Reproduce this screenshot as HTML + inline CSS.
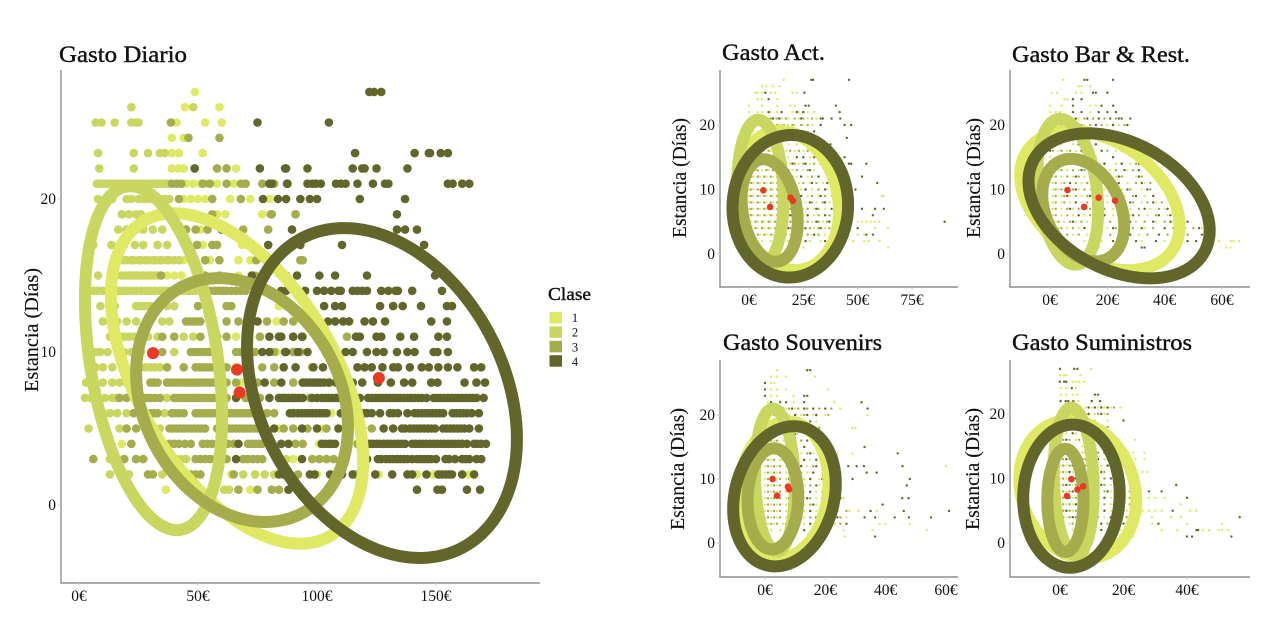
<!DOCTYPE html>
<html lang="es">
<head>
<meta charset="utf-8">
<title>Gasto y estancia por clase</title>
<style>
html,body{margin:0;padding:0;background:#fff;width:1276px;height:630px;overflow:hidden}
svg{display:block;filter:blur(.35px)}
text{font-family:"Liberation Serif",serif;fill:#111}
.title{font-size:23px;stroke:#111;stroke-width:.4px}
.ytitle{font-size:20px;stroke:#111;stroke-width:.15px}
.tick{font-size:15.5px}
</style>
</head>
<body>
<svg id="chart" width="1276" height="630" viewBox="0 0 1276 630" xmlns="http://www.w3.org/2000/svg"></svg>
<script>
const classes = ['1','2','3','4'];
const classColors = ['#DFE963','#C9D65F','#A4AC4C','#62662B'];
const redColor = '#EA3A22';

/* Main chart: each row is [estancia, gasto, gasto, ...] */
const mainRows1 = [[27,48.7],[26,44.5,59],[25,41,53,60],[24,39,44],[23,39,42,52],[22,39,41.6,44,66],[21,45,48,51,54,58,65],[20,44,47,50,53,63.5,72,80],[19,58,61.5,77],[18,41,44,51],[17,52,68.5],[16,44,47,55,67,72],[15,37,40,43,67],[14,47,52,58],[13,84,87],[12,83],[11,66],[10,57,83],[9,58,66],[8,68,106],[7,48,62],[6,106,76],[5,84,102],[4,18,58,101],[3,70,90,134],[2,58,64,100,126,142,149,164],[1,36.5,72]];
const mainRows2 = [[26,22,48],[25,7,9.5,15,22,24,25],[23,8,23,29,34,36],[22,8.5,23],[21,7.5,9,10,11.5,13,14.5,16,17.5,19,20.5,22,23.5,25,26.5,28,29.5,31,32.5,34,35.5,37],[20,8,11,14,20,22,25,27,28,30,31,33,34,36,38],[19,18,21,24,26],[18,16.5,20,24,27,31,35],[17,6,13.6,17,19,23.5,27,33,37],[16,17,19,20,22,23,25,26,28,29,31,32,34,35,37,38,40,42],[15,8,16,18,19.5,21,22.5,24,25.5,27,28.5,30,31.5,33],[14,6,8,10,16,17.5,19,20.5,22,24,26,27.5,29,30.5,32,34,36,37.5,39,40.5,42,44,46,47.5,49,51],[13,9,15,24,25.5,27,28.5,30,32,34,37,40],[12,10,13,16,20,24,35,38],[11,13,14.5,16,17.5,19,21,23,26,29,33,44,48],[10,7,9,12,19,22,26,40],[9,4,7,10,14,26,28,30,32,34],[8,3,5,10,14,17,20],[7,2.5,5,8,11,14,16,37],[6,10,13,16,20,36],[5,4,10,17,30,34],[4,13],[3,13,41,43,45,87],[2,13,21,35,69,74,78,82],[1,61,63]];
const mainRows3 = [[25,38.6],[24,46,59],[22,48.6,58,62],[21,39,41,43,52,55,62,68,70,77,82],[20,42,56,68],[19,56,80.6,81,91,91],[18,45,49,54,69,79.5],[17,49.6,56,58],[16,53,59,74.5,93,94],[15,34.5,53,59,74],[14,52,53.5,55,57,59,60.5,62,64,66,68,70],[13,50,54,62,64],[12,45,46.5,48,49.5,51,62,67,79,86,90],[11,35,40,51,58,62,76,90,94,112.6],[10,35,47,48.5,50,51.5,53,54.5,56,66,68,70,72,74,82,91,90,93],[9,37,44,49,50.5,52,53.5,55,56.5,58,62,77,82,98],[8,30,31.5,33,37,38.5,40,41.5,43,44.5,46,47.5,49,50.5,52,53.5,55,56.5,58,60,62,66,75,82,90],[7,17,20,24,25.5,27,28.5,30,32,34,40,41.5,43,44.5,46,47.5,49,50.5,52,53.5,55,56.5,58,60,62,70,71.5,73,74.5,76,86,97,108],[6,23,30,31.5,33,39,40.5,42,44,49,50.5,52,53.5,55,56.5,58,59.5,61,62.5,64,65.5,67,68.5,70,71.5,73,74.5,76,79,82],[5,20,24,38,39.5,41,42.5,44,45.5,47,48.5,50,51.5,53,58,60,63,64.5,66,67.5,69,70.5,72,73.5,75,78,86,90,96,104,123],[4,22,38,40,42,44.5,47,52,54,56,58,60,62.5,65,71,72.5,74,75.5,77,80,91,94,117,134],[3,6,19,24,27,49,51,53,55,57,59.5,62,69,71,73,75,77,98,101,104,107],[2,29,31,47,49,51,65,92,116],[1,67,75,81,92,84]];
const mainRows4 = [[27,122,124,127],[25,75,105],[23,116,141,147,147.5,152,155],[22,48.6,76,87,96,86.6,115,119,120,125,138],[21,80,87.4,81,87.6,96,98,99.6,101.6,108,110,112,117,123.5,128.6,130,155,157,161,164],[20,77.3,83.6,87,93,97,100,118,137],[19,133.6],[18,60,89.5,133.6,137,142],[17,79.5,93,110.5,145],[15,72.6,85,87,91.6,101,107.6,121,149.6],[14,85,87,95,100,103,106,109,110,115,117,119,121,127,130,133,134,140,152.5],[13,103,107.6,110.5,126.5,132,136,143.7,154.6,156.7],[12,75,104.6,107.6,111,113.5,120,123.5,128.6,148,154.6],[11,80,84,85,90,93.7,116.4,118,125,127,135,140.8,151,154.6],[10,77,80,87,86.6,92,96,112,115,121,125,128,133.6,138,141,149,150.6,155],[9,86,91,98.5,102.5,117,120,123,127.5,132,134,139,144,147,151,155,159,166,169],[8,78,85,94,95.5,97,98.5,100,101.5,103,105,108,115,119,125.6,131,136.6,140,148,150.6,162,167,170.6],[7,66,80,84,90,85,86.5,88,89.5,91,92.5,94,98,100,102,103.5,105,106.5,108,109.5,111,112.5,114,118,121.5,123,124.5,126,127.5,129,130.5,132,133.5,135,136.5,138,139.5,141,142.5,144,146,149,150.5,152,153.5,155,156.5,158,159.5,161,162.5,164,165.5,167,170],[6,90,88.6,90,92,93.5,95,96.5,98,99.5,101,102.5,104,110,119.5,121,123,126.5,130.6,132,134,138,141,142.5,144,145.5,147,148.5,150,151.5,153,157,158.5,160,161.5,163,165,168],[5,82,93.7,100,109,113,119,128,132,135.7,137,139,140.5,142,143.5,145,146.5,148,149.6,153,154.5,156,157.5,159,160.5,162,164,168],[4,67,85,88,102,103.5,105,106,107.6,122,123.5,125,126.5,128,129.5,131,132.5,134,135.5,137,140,141.5,143,144.5,146,147.5,149,150.5,152,153.5,155,156.5,158,159.5,161,163,166,167.5,169,171],[3,66,93.7,112,121,125.6,127,129,130.5,132,133.5,135,136.5,138,140,142,143.5,145,146.5,148,150,154,155.5,158,161,162.5,164,167,169],[2,84,86,97,99,105.5,110.5,115,124.5,131.6,138,140,146,151,152.5,154,155.5,156.7,161,166],[1,88,142,150.6,152.5,163,168.5]];
const mainEllipseCx = [66.4,31.3,68.5,127.3];
const mainEllipseCy = [8.27,9.6,6.86,7.32];
const mainEllipseSx = [53,28.8,44.5,56.7];
const mainEllipseSy = [10.8,11.24,7.97,10.78];
const mainEllipseRho = [-0.5,-0.34,-0.22,-0.28];
const mainMeanX = [66.4,31.1,67.5,126];
const mainMeanY = [8.85,9.93,7.35,8.3];
const mainXTicks = [0,50,100,150];
const yTicks = [0,10,20];

/* Gasto Act. */
const actLight = [[27,16],[26,6,8,11,14],[25,3,4,6,10,12,20,22],[24,4,6,13],[23,0,6,13,19,21],[22,0,4,6,10,13,20,23,27,30],[21,5,7,9,12,15,18,23,27,31],[20,3,6,8,11,14,18,21,25,29],[19,2,5,8,12,15,19,23,27],[18,2,5,8,11,14,17,21,25,29],[17,1,4,7,11,14,18,22,27],[16,1,4,7,10,13,17,21,25,31],[15,1,4,7,10,14,18,22,28],[14,0,3,6,9,12,15,19,23,28,33],[13,0,3,6,9,12,16,20,25,30],[12,0,2,5,8,11,14,18,22,27,32,37],[11,0,2,5,8,11,14,18,23,28,34],[10,0,2,5,8,11,15,19,24,29,36],[9,0,2,5,8,11,14,18,22,27,32,38,61,62],[8,0,2,5,8,11,14,18,22,26,31,37,43],[7,0,2,5,8,11,14,17,21,25,30,35,41],[6,0,2,5,8,11,14,17,21,25,30,35,40,45],[5,1,4,7,10,13,17,21,25,29,34,39,44,50,52,54,56,58,60],[4,1,4,7,10,13,17,21,25,30,35,40,45,58,64],[3,2,5,8,11,15,19,24,29,35,41,50,53],[2,3,6,10,14,18,23,28,33,39,48,53,55,60],[1,25,64]];
const actMid = [[21,6,10,13,17,21,25,29],[20,4,7,10,13,16,20,24,27],[18,3,6,9,13,16,19,23,27],[16,2,5,9,12,15,19,23,27],[14,1,4,7,11,14,17,21,25,30],[13,1,4,8,11,14,18,22,27],[12,1,4,7,10,13,16,20,24,29],[11,1,4,7,10,13,16,20,25,31],[10,1,4,7,10,13,17,21,26,32],[9,1,4,7,10,13,16,20,24,29,35],[8,1,4,7,10,13,16,20,24,29,34],[7,1,4,7,10,13,16,19,23,27,32],[6,1,4,7,10,13,16,19,23,27,32,37],[5,3,6,9,12,15,19,23,27,32,36],[4,3,6,9,12,15,19,23,28,32,37],[3,4,7,10,13,17,22,27,32]];
const actDark = [[27,28.7,29.5,46],[25,7.5,25.5],[24,9],[23,26,27.5,40],[22,9,15,22,25,41.7],[21,11,14,24,33,34,38,42],[20,33,44,47],[19,30],[18,45],[17,37.5],[16,39],[15,22,25,30,44],[14,20,26,33,46,47,54],[13,18,28,38],[12,16,24,32,52],[11,20,29,36,59],[10,17,26,35,49],[9,15,24,33],[8,20,28,35,39],[7,16,23,31,38,52,58,62],[6,19,27,35,43,57],[5,15,23,31,37,42,90],[4,18,26,33,41,50],[3,22,30,38,54,57],[2,20,26,35,44],[1,35]];
const actCx = [17.7,5.25,9.5,19];
const actCy = [8.3,9.6,6.75,7.4];
const actSx = [23.7,10.65,12.9,26.6];
const actSy = [10.8,11.2,7.95,11.05];
const actRho = [-0.15,-0.09,-0.22,0.02];
const actMeanX = [19.1,6.6,9.7,20.2];
const actMeanY = [8.73,9.87,7.29,8.27];
const actXTicks = [0,25,50,75];

/* Gasto Bar & Rest. */
const barLight = [[27,4.6],[26,10,11,14],[25,0.6,2.5,9,11],[24,5,6],[23,0,4,14,16],[22,0,2,3.5,11,14],[21,4,7,10,13,17,21,25],[20,3,6,9,12,16,20,24],[19,2,5,8,12,16,20],[18,0,3,6,10,14,19,24],[17,1,4,8,12,16,21,26],[16,0,3,6,9,13,18,23],[15,0,3,7,11,16,22],[14,1,4,8,12,17,23,28],[13,0,3,6,10,15,21,27],[12,1,4,8,12,17,23,30],[11,1,4,7,11,16,21,27,33],[10,1,3,6,10,14,19,25,32],[9,1,4,7,11,15,20,26,33],[8,1,4,7,11,15,20,26,32,37],[7,1,4,8,12,17,22,28,35,40],[6,1,4,8,12,17,22,28,34,41],[5,2,5,9,13,18,24,30,37,43],[4,3,6,10,15,20,26,33,40,47,53],[3,4,8,13,18,24,31,38,45],[2,6,12,18,25,32,40,59,63,64,66],[1,17,61.5,63]];
const barMid = [[21,5,9,12,15,19,23],[20,4,7,11,14,18,22,26],[18,1,4,8,12,16,21,25],[16,1,4,7,11,15,20,25],[14,2,5,10,14,19,25,30],[13,1,4,8,12,17,23,29],[12,2,6,10,14,19,25,32],[11,2,5,9,13,18,23,30,35],[10,2,4,8,12,16,22,28,35],[9,2,5,9,13,17,23,29,36],[8,2,5,9,13,17,23,29,34,39],[7,2,6,10,14,19,25,31,38,43],[6,2,6,10,14,19,25,31,37,44],[5,3,7,11,15,21,27,33,40,46],[4,4,8,12,17,23,29,36,43,50],[3,6,10,15,21,27,34,41,48]];
const barDark = [[27,12,13,22],[25,15,16,20],[24,8,11],[23,8,18,22],[22,8,11,17,20,23],[21,9,13,17,21,24,25,28],[20,16,22,27],[18,12,18,27],[17,10,16,22],[16,0,11,18],[15,6,14,22,31],[14,13,19,25,31],[13,11,19,26,31],[12,9,16,24,31],[11,7,15,24,32],[10,9,18,27,34],[9,6,14,23,30,36],[8,9,18,28,36],[7,7,16,25,33,41],[6,10,19,29,38,42],[5,8,18,28,36,42,48],[4,12,22,32,40,47,52,55],[3,16,28,38,46,53],[2,22,30,37,48,51],[1,32,33]];
const barCx = [17.4,6.2,11.6,24.1];
const barCy = [8.3,9.65,6.8,7.47];
const barSx = [27.8,10.6,14.3,31.6];
const barSy = [10.8,11.3,7.95,11.24];
const barRho = [-0.36,-0.25,-0.3,-0.34];
const barMeanX = [17,6.1,11.9,22.7];
const barMeanY = [8.73,9.92,7.29,8.27];
const barXTicks = [0,20,40,60];

/* Gasto Souvenirs */
const souLight = [[27,4],[26,2,4,7,16.6],[25,2,3],[24,2,4,7,21],[23,2,4,9.5],[22,1,9.5,23],[21,4,7,10,13,16,25],[20,2,5,8,12,16,20,34],[19,3,6,9,13,17],[18,2,5,8,12,16,29,30],[17,1,4,7,11,15],[16,1,3,6,10,14,19],[15,1,3,6,9,13,18],[14,0,2,5,8,12,16,24,29],[13,0,2,5,8,11,15,20],[12,0,2,4,7,10,14,19,60],[11,0,2,4,7,10,14,19,24],[10,0,2,4,7,10,13,18],[9,0,2,4,7,10,13,18,23],[8,0,2,4,7,10,13,17,22],[7,0,2,4,7,10,13,17,22,26],[6,0,2,4,7,10,13,17,22],[5,0,2,4,7,10,13,17,22,28,31,35,37],[4,0,2,4,7,10,13,18,23,27],[3,1,3,6,9,13,18,23,38,40,48],[2,2,5,9,13,19,26,35.6,53.6],[1,26.5]];
const souMid = [[21,5,8,11,14,18,22],[20,3,6,10,13,17,21],[18,3,6,10,14,18],[16,2,4,8,12,16,21],[14,1,3,6,10,14,18,22],[13,1,3,6,9,13,17,22],[12,1,3,5,8,12,16,21],[11,1,3,5,8,12,16,21,25],[10,1,3,5,8,11,15,20,24],[9,1,3,5,8,11,15,20,25],[8,1,3,5,8,11,15,19,24],[7,1,3,5,8,11,15,19,24],[6,1,3,5,8,11,15,19,24],[5,1,3,5,8,11,15,19,24,27],[4,1,3,5,8,11,15,20,25],[3,2,4,7,11,15,20,25]];
const souDark = [[27,14,15],[25,0],[24,0],[23,0,13,14],[22,2,5,7,13,32],[21,6,9,13,16,20,34],[20,10,14,17],[19,15],[17,10],[16,14],[15,13,33],[14,9,15,21,44],[13,8,13,17],[12,12,17,27.6,30.4,32.8,45.6],[11,10,16,20,33.7,37],[10,8,15,19,29,48],[9,12,17,21,47],[8,9,15,20,24],[7,8,14,19,25,45.5,47.6],[6,11,16,21,39],[5,10,15,19,23,35,46,61],[4,12,17,24,33,36.5,43,47.7,55],[3,9,15,22,27],[2,13,19],[1,36.5]];
const souCx = [6.1,3.3,2.6,6.45];
const souCy = [8.3,9.85,6.9,7.3];
const souSx = [14.9,6.6,8.4,17];
const souSy = [10.7,11.15,7.9,10.95];
const souRho = [0.1,-0.1,0.04,0.18];
const souMeanX = [7.6,2.5,4,8];
const souMeanY = [8.8,10,7.4,8.4];
const souXTicks = [0,20,40,60];

/* Gasto Suministros */
const sumLight = [[27,9.7],[26,0,1.3,2,6.5],[25,4,5,6,7.6],[24,0.2,2,5],[23,0.2,2,4,5.5],[22,5.8,10],[21,8,10,12,14,16,19],[20,1,3,5,8,11,14],[19,1,3,5,8,11,15],[18,0,2,4,7,10,14],[17,0,2,5,8,11,16],[16,0,2,5,8,12,17,23.7],[15,0,2,4,7,10,14,19],[14,0,2,4,7,11,15,23,26.6],[13,0,2,4,7,10,14,18,23.7,26.6],[12,0,2,4,7,10,13,18,22],[11,0,2,4,6,9,13,17,21,26,27.5],[10,0,2,4,6,9,12,16,20,24],[9,0,2,4,6,9,12,16,20,24],[8,0,2,4,6,9,12,16,20,25],[7,0,2,4,6,9,12,16,20,25,28,30,33],[6,0,2,4,6,9,12,16,20,25,38],[5,0,2,4,6,9,12,16,21,26,28,30,32,41,43],[4,0,2,4,7,10,14,18,24,29,35,38],[3,0,3,6,9,13,18,24,29,31,40,51],[2,1,4,8,13,19,32,37,45,47,50,51,53],[1,23]];
const sumMid = [[21,9,11,13,15,17],[20,2,4,6,9,12,15],[18,1,3,5,8,12,15],[16,1,3,6,9,13,18],[14,1,3,5,8,12,16,20],[13,1,3,5,8,11,15,19],[12,1,3,5,8,11,15,19],[11,1,3,5,7,10,14,18,22],[10,1,3,5,7,10,14,18,22],[9,1,3,5,7,10,14,18,22],[8,1,3,5,7,10,14,18,22],[7,1,3,5,7,10,14,18,22],[6,1,3,5,7,10,14,18,22],[5,1,3,5,7,10,14,18,23],[4,1,3,5,8,12,16,21],[3,1,4,7,11,15,21]];
const sumDark = [[27,0,4.5,5.5],[25,0,1.3,2],[24,3.7],[23,11,12],[22,0.2,1.8,2.6,4.2,10,12.6],[21,9,11,13,15],[20,3,9,13],[19,20],[18,6,11],[17,4,10],[16,2,8,13],[15,3,9,14],[14,5,10,14],[13,2,7,12,17],[12,4,9,15],[11,3,8,13,19],[10,5,10,16],[9,2,7,13,18,36.6],[8,4,10,15,28,32],[7,3,8,14,19,40],[6,5,11,17,24],[5,2,8,14,20,35.5],[4,4,10,16,23,56.6],[3,6,13,20,31],[2,0,6,13,43,43.5],[1,40,41.6,54]];
const sumCx = [5.6,4.3,1.7,3.6];
const sumCy = [8.3,9.55,6.6,7.26];
const sumSx = [18.4,6.3,5.7,15.2];
const sumSy = [10.7,11.45,8,11.1];
const sumRho = [-0.15,-0.12,0,0.03];
const sumMeanX = [7.3,3.6,2.2,5.5];
const sumMeanY = [8.8,9.9,7.3,8.3];
const sumXTicks = [0,20,40];

const NS = 'http://www.w3.org/2000/svg';
const root = document.getElementById('chart');
function el(tag, attrs, parent){
  const n = document.createElementNS(NS, tag);
  for (const k in attrs) n.setAttribute(k, attrs[k]);
  parent.appendChild(n);
  return n;
}
function linear(d0, r0, d1, r1){
  return v => r0 + (v - d0) * (r1 - r0) / (d1 - d0);
}
function ellipsePath(cx, cy, sx, sy, rho, X, Y){
  const phi = Math.acos(rho);
  let d = '';
  for (let i = 0; i <= 180; i++){
    const t = i / 180 * 2 * Math.PI;
    const px = X(cx + sx * Math.cos(t));
    const py = Y(cy + sy * Math.cos(t - phi));
    d += (i ? 'L' : 'M') + px.toFixed(2) + ' ' + py.toFixed(2);
  }
  return d + 'Z';
}
function drawRows(rows, color, r, X, Y, g){
  rows.forEach(row => {
    row.slice(1).forEach(v => {
      const c = el('circle', {cx: X(v), cy: Y(row[0]), r: r, fill: color}, g);
      
      
    });
  });
}
function drawPanel(p){
  const X = linear(p.x0[0], p.x0[1], p.x1[0], p.x1[1]);
  const Y = linear(0, p.y0, 20, p.y20);
  const g = el('g', {}, root);
  
  

  p.layers.forEach(l => drawRows(l.rows, l.color, p.dot, X, Y, g));

  p.cx.forEach((_, i) => {
    const e = el('path', {d: ellipsePath(p.cx[i], p.cy[i], p.sx[i], p.sy[i], p.rho[i], X, Y), fill: 'none', stroke: classColors[i], 'stroke-width': p.band}, g);
    
    
  });
  p.mx.forEach((_, i) => {
    const c = el('circle', {cx: X(p.mx[i]), cy: Y(p.my[i]), r: p.red, fill: redColor}, g);
    
    
  });

  const axisY = el('line', {x1: p.left, x2: p.left, y1: p.top, y2: p.bottom, stroke: '#8f8f8f', 'stroke-width': 1.4}, g);
  
  
  const axisX = el('line', {x1: p.left - .7, x2: p.right, y1: p.bottom, y2: p.bottom, stroke: '#8f8f8f', 'stroke-width': 1.4}, g);
  
  

  yTicks.forEach(v => {
    const m = el('line', {x1: p.left - 3, x2: p.left, y1: Y(v), y2: Y(v), stroke: '#cfcfcf', 'stroke-width': 1}, g);
    
    
    const t = el('text', {x: p.left - 5, y: Y(v) + 5, 'text-anchor': 'end', class: 'tick'}, g);
    t.textContent = v;
    
    
  });
  p.xTicks.forEach(v => {
    const m = el('line', {x1: X(v), x2: X(v), y1: p.bottom, y2: p.bottom + 3, stroke: '#cfcfcf', 'stroke-width': 1}, g);
    
    
    const t = el('text', {x: X(v), y: p.bottom + 18, 'text-anchor': 'middle', class: 'tick'}, g);
    t.textContent = v + '€';
    
    
  });

  const title = el('text', {x: p.titleX, y: p.titleY, class: 'title', textLength: p.titleW, lengthAdjust: 'spacingAndGlyphs'}, g);
  title.textContent = p.title;
  
  

  const yt = el('text', {transform: 'translate(' + p.yTitleX + ',' + p.yTitleBottom + ') rotate(-90)', class: 'ytitle', textLength: p.yTitleLen, lengthAdjust: 'spacingAndGlyphs'}, g);
  yt.textContent = 'Estancia (Días)';
  
  
}

drawPanel({name:'gasto-diario', title:'Gasto Diario', titleX:59, titleY:62, titleW:128,
  left:61, right:540, top:70, bottom:583, x0:[0,79], x1:[150,436], y0:505, y20:199,
  dot:4.3, band:12, red:6, xTicks:mainXTicks, yTitleX:38, yTitleBottom:392, yTitleLen:124,
  cx:mainEllipseCx, cy:mainEllipseCy, sx:mainEllipseSx, sy:mainEllipseSy, rho:mainEllipseRho, mx:mainMeanX, my:mainMeanY,
  layers:[{rows:mainRows1,color:classColors[0]},{rows:mainRows2,color:classColors[1]},{rows:mainRows3,color:classColors[2]},{rows:mainRows4,color:classColors[3]}]});
drawPanel({name:'gasto-act', title:'Gasto Act.', titleX:722, titleY:60, titleW:103,
  left:720, right:958, top:70, bottom:287, x0:[0,749], x1:[75,912], y0:254, y20:125,
  dot:1.2, band:12, red:3.3, xTicks:actXTicks, yTitleX:686, yTitleBottom:238, yTitleLen:120,
  cx:actCx, cy:actCy, sx:actSx, sy:actSy, rho:actRho, mx:actMeanX, my:actMeanY,
  layers:[{rows:actLight,color:classColors[0]},{rows:actMid,color:classColors[2]},{rows:actDark,color:classColors[3]}]});
drawPanel({name:'gasto-bar-rest', title:'Gasto Bar & Rest.', titleX:1012, titleY:62, titleW:178,
  left:1010, right:1250, top:70, bottom:287, x0:[0,1050], x1:[60,1222], y0:254, y20:125,
  dot:1.2, band:12, red:3.3, xTicks:barXTicks, yTitleX:980, yTitleBottom:238, yTitleLen:120,
  cx:barCx, cy:barCy, sx:barSx, sy:barSy, rho:barRho, mx:barMeanX, my:barMeanY,
  layers:[{rows:barLight,color:classColors[0]},{rows:barMid,color:classColors[2]},{rows:barDark,color:classColors[3]}]});
drawPanel({name:'gasto-souvenirs', title:'Gasto Souvenirs', titleX:723, titleY:350, titleW:159,
  left:720, right:958, top:360, bottom:577, x0:[0,765], x1:[60,946], y0:543, y20:415,
  dot:1.2, band:12, red:3.3, xTicks:souXTicks, yTitleX:684, yTitleBottom:530, yTitleLen:122,
  cx:souCx, cy:souCy, sx:souSx, sy:souSy, rho:souRho, mx:souMeanX, my:souMeanY,
  layers:[{rows:souLight,color:classColors[0]},{rows:souMid,color:classColors[2]},{rows:souDark,color:classColors[3]}]});
drawPanel({name:'gasto-suministros', title:'Gasto Suministros', titleX:1012, titleY:350, titleW:180,
  left:1010, right:1250, top:360, bottom:577, x0:[0,1060], x1:[40,1187], y0:543, y20:414,
  dot:1.2, band:12, red:3.3, xTicks:sumXTicks, yTitleX:979, yTitleBottom:530, yTitleLen:122,
  cx:sumCx, cy:sumCy, sx:sumSx, sy:sumSy, rho:sumRho, mx:sumMeanX, my:sumMeanY,
  layers:[{rows:sumLight,color:classColors[0]},{rows:sumMid,color:classColors[2]},{rows:sumDark,color:classColors[3]}]});

/* Legend */
const legend = el('g', {}, root);


const legendTitle = el('text', {x: 548, y: 300, class: 'title', style: 'font-size:18px', textLength: 43, lengthAdjust: 'spacingAndGlyphs'}, legend);
legendTitle.textContent = 'Clase';


classes.forEach((c, i) => {
  const s = el('rect', {x: 549.5, y: 312 + i * 14.4, width: 12.5, height: 11.5, fill: classColors[i]}, legend);
  
  
  const t = el('text', {x: 575, y: 322 + i * 14.7, 'text-anchor': 'middle', style: 'font-size:12.5px'}, legend);
  t.textContent = c;
  
  
});
</script>
</body>
</html>
